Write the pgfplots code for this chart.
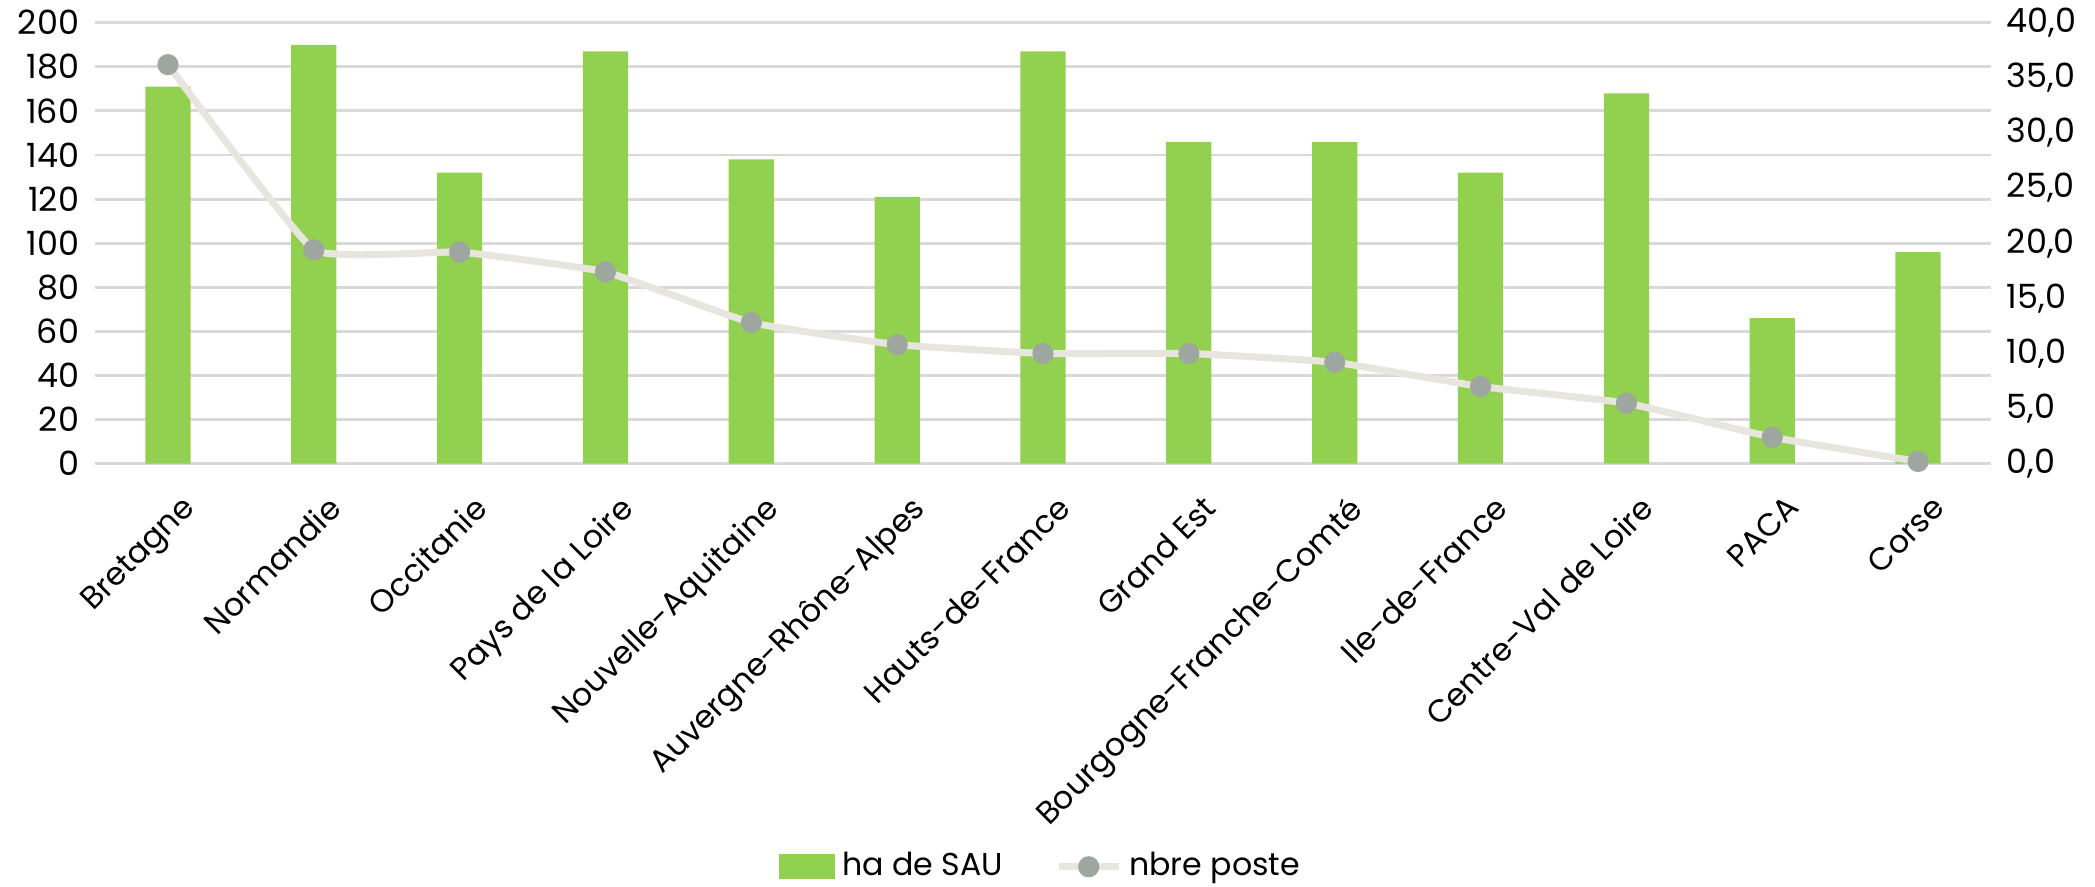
\documentclass[border=0pt]{standalone}
\usepackage{pgfplots}
\pgfplotsset{compat=1.18}
\usepackage{fontspec}
\setmainfont{Poppins}

\definecolor{bargreen}{HTML}{92D050}
\definecolor{linebeige}{HTML}{E8E5DF}
\definecolor{markgray}{HTML}{9EA79F}
\definecolor{gridgray}{HTML}{D9D9D9}

\pgfplotstableread{
x sau poste
0 171 36.2
1 190 19.4
2 132 19.2
3 187 17.4
4 138 12.8
5 121 10.8
6 187 10.0
7 146 10.0
8 146 9.2
9 132 7.0
10 168 5.5
11 66 2.4
12 96 0.2
}\datatable

\begin{document}
\begin{tikzpicture}
\pgfplotsset{
  every axis/.append style={
    scale only axis,
    width=18.96cm, height=4.41cm,
    xmin=-0.5, xmax=12.5,
    ymin=0,
    tick style={draw=none},
    tick label style={font=\fontsize{9.5}{11}\selectfont},
    /pgf/number format/assume math mode=true,
  },
}
\begin{axis}[
  ymax=200, ytick distance=20,
  axis x line*=bottom, axis y line*=left,
  x axis line style={draw=gridgray, line width=0.8pt},
  y axis line style={draw=none},
  ymajorgrids, grid style={gridgray, line width=0.8pt},
  xtick=data,
  xticklabels={Bretagne, Normandie, Occitanie, Pays de la Loire, Nouvelle-Aquitaine, Auvergne-Rhône-Alpes, Hauts-de-France, Grand Est, Bourgogne-Franche-Comté, Ile-de-France, Centre-Val de Loire, PACA, Corse},
  xticklabel style={rotate=45, anchor=north east, font=\fontsize{9}{11}\selectfont, xshift=3pt, yshift=-2pt},
  yticklabel style={xshift=-1pt},
  ybar, bar width=0.31,
]
\addplot[fill=bargreen, draw=none] table[x=x, y=sau] {\datatable};
\end{axis}
\begin{axis}[
  ymax=40, ytick distance=5,
  axis x line=none, axis y line*=right,
  y axis line style={draw=none},
  xtick=\empty,
  yticklabel style={xshift=1pt},
  yticklabel={\pgfmathprintnumber[fixed, fixed zerofill, precision=1, use comma]{\tick}},
  legend columns=2,
  legend style={draw=none, fill=none, at={(0.5,-0.914)}, anchor=center,
    font=\fontsize{9}{11}\selectfont,
    /tikz/every even column/.append style={column sep=0.45cm}},
]
\addlegendimage{legend image code/.code={\fill[bargreen] (0cm,-0.12cm) rectangle (0.55cm,0.12cm);}}
\addlegendentry{ha de SAU}
\addplot[linebeige, line width=2pt, smooth, tension=0.2,
  mark=*, mark size=2pt, mark options={draw=markgray, fill=markgray}]
  table[x=x, y=poste] {\datatable};
\addlegendentry{nbre poste}
\end{axis}
\pgfresetboundingbox
\path (-0.95cm,-4.224cm) rectangle (20.0cm,4.637cm);
\end{tikzpicture}
\end{document}
